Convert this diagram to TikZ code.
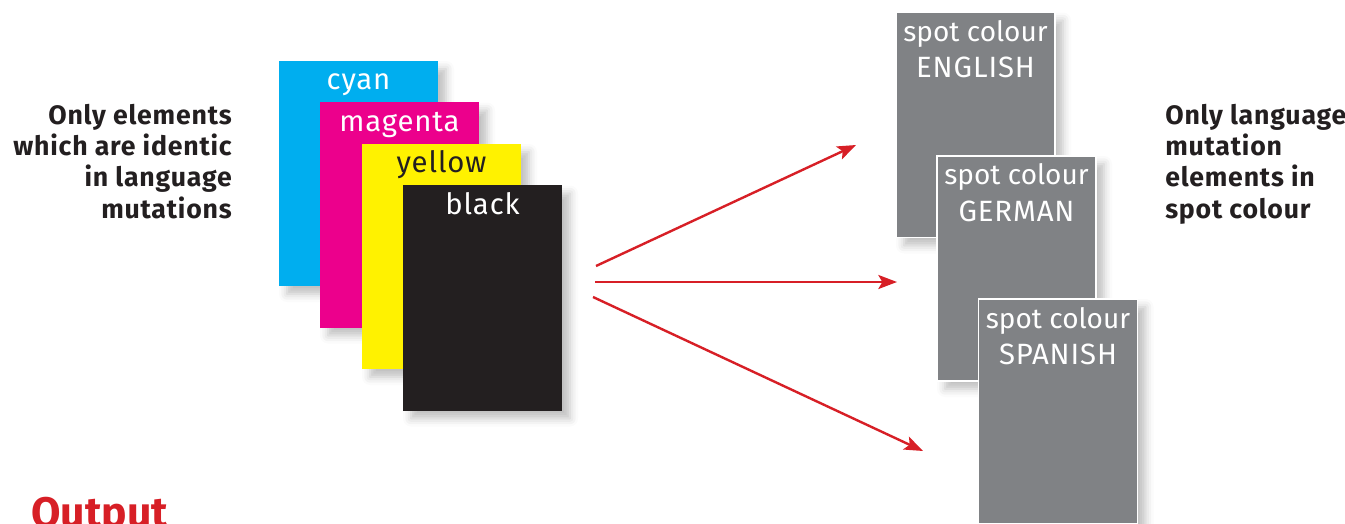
\documentclass[tikz,border=0pt]{standalone}
\usepackage{fontspec}
\setmainfont{Fira Sans}
\newfontfamily\trackedfont{Fira Sans}[LetterSpace=3]
\usetikzlibrary{arrows.meta,shadows.blur}

\definecolor{procCyan}{HTML}{00AEEF}
\definecolor{procMagenta}{HTML}{EC008C}
\definecolor{procYellow}{HTML}{FFF200}
\definecolor{procBlack}{HTML}{231F20}
\definecolor{spotGrey}{HTML}{808285}
\definecolor{arrowRed}{HTML}{D71F26}
\definecolor{noteDark}{HTML}{231F20}

\tikzset{
  card/.style={rectangle, inner sep=0pt, outer sep=0pt,
    minimum width=119.25pt, minimum height=168.75pt,
    blur shadow={shadow xshift=6pt, shadow yshift=-6pt,
      shadow blur radius=6pt, shadow opacity=25}},
  spotcard/.style={card, fill=spotGrey, draw=white, line width=1.2pt},
  cardlbl/.style={anchor=base, inner sep=0pt, text=white,
    font=\trackedfont\fontsize{22}{26}\selectfont},
  spotlbl/.style={cardlbl, font=\fontsize{21}{25}\selectfont},
  sidenote/.style={inner sep=0pt, text=noteDark,
    font=\trackedfont\fontsize{20}{23.6}\selectfont\bfseries}
}

\begin{document}
\begin{tikzpicture}[x=0.75pt,y=-0.75pt]
  \useasboundingbox (0,0) rectangle (1345,524);

  % process plates
  \node[card, fill=procCyan]    (cardC) at (358.5,173.5) {};
  \node[card, fill=procMagenta] (cardM) at (399.5,215)   {};
  \node[card, fill=procYellow]  (cardY) at (441.5,256.5) {};
  \node[card, fill=procBlack]   (cardK) at (482.5,298)   {};

  \node[cardlbl] (lblC) at ([yshift=-21.75pt]cardC.north) {cyan};
  \node[cardlbl] (lblM) at ([yshift=-21.75pt]cardM.north) {magenta};
  \node[cardlbl, text=noteDark] (lblY) at ([yshift=-21.75pt]cardY.north) {yellow};
  \node[cardlbl] (lblK) at ([yshift=-21.75pt]cardK.north) {black};

  % spot colour plates
  \node[spotcard] (spotEN) at (975.5,125)    {};
  \node[spotcard] (spotDE) at (1016.5,268.5) {};
  \node[spotcard] (spotES) at (1058,411.5)   {};

  \node[spotlbl] (spotENa) at ([yshift=-21.75pt]spotEN.north) {spot colour};
  \node[cardlbl] (spotENb) at ([yshift=-48.75pt]spotEN.north) {ENGLISH};
  \node[spotlbl] (spotDEa) at ([yshift=-21.75pt]spotDE.north) {spot colour};
  \node[cardlbl] (spotDEb) at ([yshift=-48.75pt]spotDE.north) {GERMAN};
  \node[spotlbl] (spotESa) at ([yshift=-21.75pt]spotES.north) {spot colour};
  \node[cardlbl] (spotESb) at ([yshift=-48.75pt]spotES.north) {SPANISH};

  % fan of arrows
  \coordinate (fanA)  at (596,266);
  \coordinate (fanB)  at (595,282);
  \coordinate (fanC)  at (593,297);
  \coordinate (tipEN) at (856,145);
  \coordinate (tipDE) at (897,282);
  \coordinate (tipES) at (923,451);

  \begin{scope}[every edge/.style={draw, arrowRed, line width=1.8pt,
      -{Stealth[length=14pt, width=10.5pt, inset=3pt]}}]
    \path (fanA) edge (tipEN);
    \path (fanB) edge (tipDE);
    \path (fanC) edge (tipES);
  \end{scope}

  % notes
  \node[sidenote, anchor=north east, align=right] (noteL) at (232,103.5)
    {Only elements\\which are identic\\in language\\mutations};
  \node[sidenote, anchor=north west, align=left] (noteR) at (1165,103.5)
    {Only language\\mutation\\elements in\\spot colour};

  \node[anchor=base west, inner sep=0pt, text=arrowRed,
    font=\fontsize{32}{38}\selectfont\bfseries] (title) at (31,527) {Output};

\end{tikzpicture}
\end{document}
